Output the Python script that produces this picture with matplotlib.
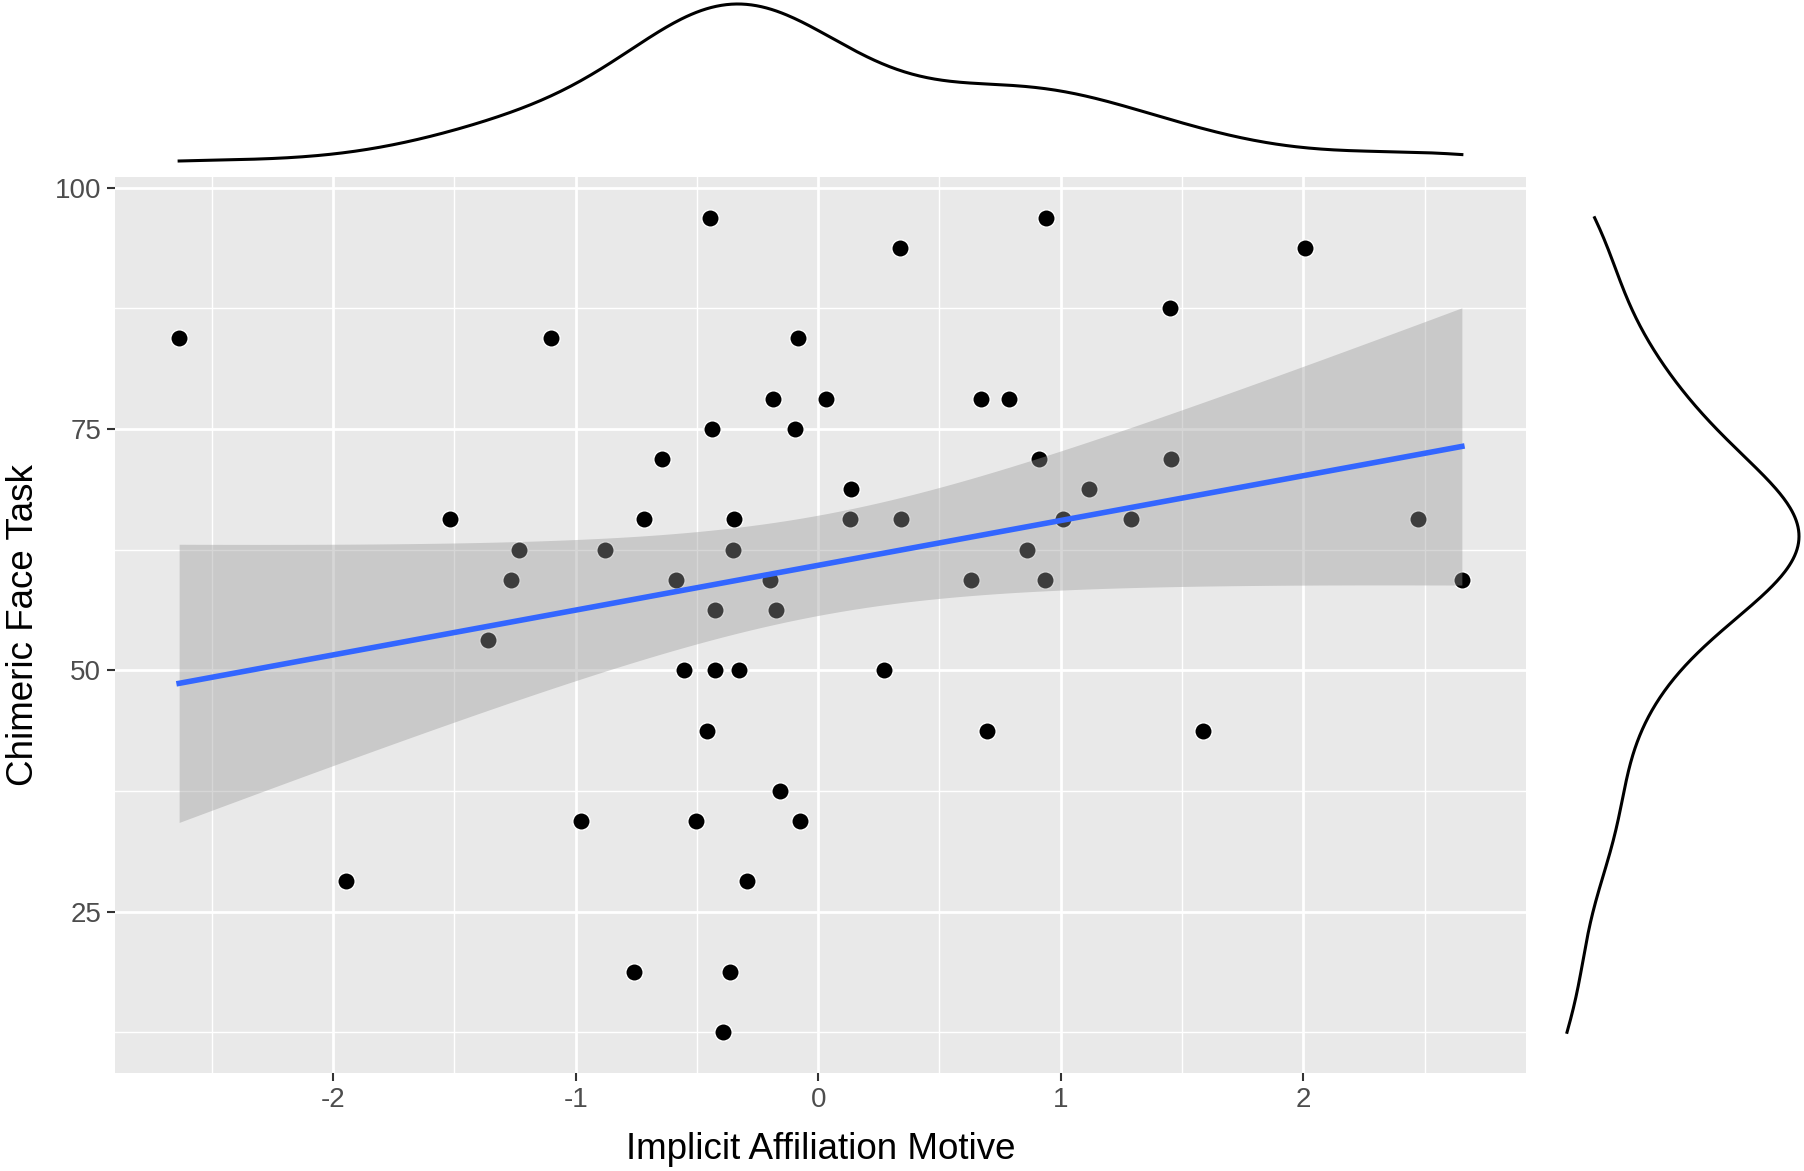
import numpy as np
import matplotlib.pyplot as plt

plt.rcParams['font.family'] = ['Liberation Sans', 'DejaVu Sans']
plt.rcParams['axes.unicode_minus'] = False

# values
affiliation = [-2.635, -1.948, -1.517, -1.360, -1.265, -1.232, -1.100, -0.976,
               -0.877, -0.758, -0.720, -0.645, -0.588, -0.555, -0.502, -0.460,
               -0.445, -0.436, -0.427, -0.427, -0.393, -0.365, -0.351, -0.346,
               -0.327, -0.294, -0.199, -0.185, -0.175, -0.156, -0.095, -0.085,
               -0.076, 0.033, 0.133, 0.137, 0.270, 0.336, 0.341, 0.630,
               0.673, 0.697, 0.787, 0.863, 0.910, 0.934, 0.938, 1.009,
               1.118, 1.289, 1.450, 1.455, 1.588, 2.009, 2.474, 2.654]
chimeric = [84.375, 28.125, 65.625, 53.125, 59.375, 62.5, 84.375, 34.375,
            62.5, 18.75, 65.625, 71.875, 59.375, 50.0, 34.375, 43.75,
            96.875, 75.0, 56.25, 50.0, 12.5, 18.75, 62.5, 65.625,
            50.0, 28.125, 59.375, 78.125, 56.25, 37.5, 75.0, 84.375,
            34.375, 78.125, 65.625, 68.75, 50.0, 93.75, 65.625, 59.375,
            78.125, 43.75, 78.125, 62.5, 71.875, 59.375, 96.875, 65.625,
            68.75, 65.625, 87.5, 71.875, 43.75, 93.75, 65.625, 59.375]

x_ticks = [-2, -1, 0, 1, 2]
y_ticks = [25, 50, 75, 100]

x = np.array(affiliation)
y = np.array(chimeric)
n = len(x)


def density(v, grid):
    # gaussian kernel, R's nrd0 bandwidth
    sd = np.std(v, ddof=1)
    q75, q25 = np.percentile(v, [75, 25])
    bw = 0.9 * min(sd, (q75 - q25) / 1.34) * len(v) ** -0.2
    z = (grid[:, None] - v[None, :]) / bw
    return np.exp(-0.5 * z ** 2).sum(axis=1) / (len(v) * bw * np.sqrt(2 * np.pi))


# lm fit with 95% band
slope, icpt = np.polyfit(x, y, 1)
xs = np.linspace(x.min(), x.max(), 100)
fit = icpt + slope * xs
res = y - (icpt + slope * x)
s = np.sqrt(res @ res / (n - 2))
se = s * np.sqrt(1 / n + (xs - x.mean()) ** 2 / ((x - x.mean()) ** 2).sum())
t975 = 2.0049

xr = x.max() - x.min()
yr = y.max() - y.min()
xlim = (x.min() - 0.05 * xr, x.max() + 0.05 * xr)
ylim = (y.min() - 0.05 * yr, y.max() + 0.05 * yr)

fig = plt.figure(figsize=(18.04, 11.71), dpi=100)
W, H = 1804, 1171
ax = fig.add_axes([115 / W, 1 - 1073 / H, (1526 - 115) / W, (1073 - 177) / H])
ax.set_facecolor('#E9E9E9')
for sp in ax.spines.values():
    sp.set_visible(False)

ax.plot(x, y, 'o', color='black', markersize=12.5, markeredgecolor='white',
        markeredgewidth=1.0, zorder=3)
ax.fill_between(xs, fit - t975 * se, fit + t975 * se, color='#999999',
                alpha=0.4, linewidth=0, zorder=4)
ax.plot(xs, fit, color='#3366FF', linewidth=4.0, zorder=5)

ax.set_xlim(xlim)
ax.set_ylim(ylim)
ax.set_xticks(x_ticks)
ax.set_yticks(y_ticks)
ax.set_xticks(np.arange(-2.5, 3.0, 1.0), minor=True)
ax.set_yticks([12.5, 37.5, 62.5, 87.5], minor=True)
ax.grid(which='major', color='white', linewidth=2.0, zorder=0)
ax.grid(which='minor', color='white', linewidth=1.0, zorder=0)
ax.set_axisbelow(True)
ax.tick_params(which='major', length=6, width=1.5, color='#333333',
               labelsize=20, labelcolor='#4D4D4D', pad=4)
ax.tick_params(which='minor', length=0)
ax.set_xlabel('Implicit Affiliation Motive', fontsize=26.5, labelpad=14)
ax.set_ylabel('Chimeric Face Task', fontsize=26.5, labelpad=10)

# top marginal density
gx = np.linspace(x.min(), x.max(), 512)
dx = density(x, gx)
ax_top = fig.add_axes([115 / W, 1 - 161 / H, (1526 - 115) / W, (161 - 4) / H])
ax_top.plot(gx, dx, color='black', linewidth=2.2, clip_on=False)
ax_top.set_xlim(xlim)
ax_top.set_ylim(dx.min(), dx.max())
ax_top.axis('off')

# right marginal density
gy = np.linspace(y.min(), y.max(), 512)
dy = density(y, gy)
ax_r = fig.add_axes([1567 / W, 1 - 1073 / H, (1799 - 1567) / W, (1073 - 177) / H])
ax_r.plot(dy, gy, color='black', linewidth=2.2, clip_on=False)
ax_r.set_ylim(ylim)
ax_r.set_xlim(dy.min(), dy.max())
ax_r.axis('off')

fig.savefig('out.png', dpi=100)
